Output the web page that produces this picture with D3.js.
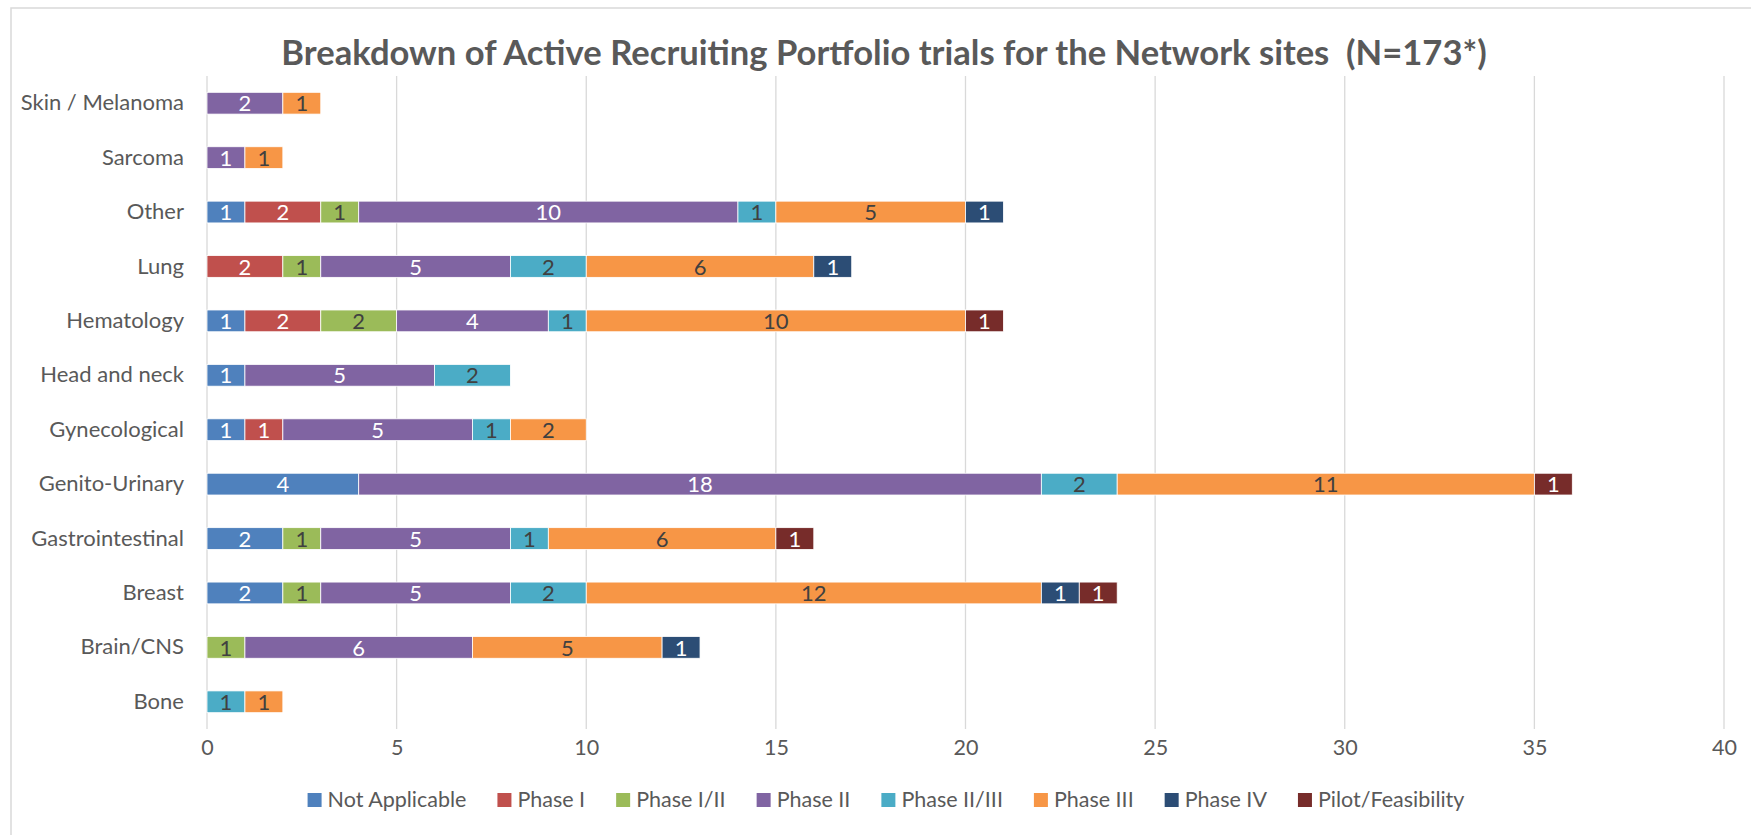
<!DOCTYPE html>
<html><head><meta charset="utf-8">
<script src="https://cdn.jsdelivr.net/npm/d3@7"></script>
<style>
body{margin:0;background:#fff}
svg{display:block}
text{font-family:Lato,"Open Sans","Noto Sans",sans-serif}
</style></head>
<body><svg id="c" width="1751" height="835"></svg>
<script>
const categories = ["Skin / Melanoma","Sarcoma","Other","Lung","Hematology","Head and neck","Gynecological","Genito-Urinary","Gastrointestinal","Breast","Brain/CNS","Bone"];
const seriesNames = ["Not Applicable","Phase I","Phase I/II","Phase II","Phase II/III","Phase III","Phase IV","Pilot/Feasibility"];
const notApplicable = [0,0,1,0,1,1,1,4,2,2,0,0];
const phaseI        = [0,0,2,2,2,0,1,0,0,0,0,0];
const phaseI_II     = [0,0,1,1,2,0,0,0,1,1,1,0];
const phaseII       = [2,1,10,5,4,5,5,18,5,5,6,0];
const phaseII_III   = [0,0,1,2,1,2,1,2,1,2,0,1];
const phaseIII      = [1,1,5,6,10,0,2,11,6,12,5,1];
const phaseIV       = [0,0,1,1,0,0,0,0,0,1,1,0];
const pilotFeasibility = [0,0,0,0,1,0,0,1,1,1,0,0];
const xTicks = [0,5,10,15,20,25,30,35,40];
const titleText = "Breakdown of Active Recruiting Portfolio trials for the Network sites  (N=173*)";

const seriesValues = [notApplicable, phaseI, phaseI_II, phaseII, phaseII_III, phaseIII, phaseIV, pilotFeasibility];
const colors = ["#4F81BD","#C0504D","#9BBB59","#8064A2","#4BACC6","#F79646","#2C4D75","#772C2A"];
const labelColors = ["#ffffff","#ffffff","#404040","#ffffff","#404040","#404040","#ffffff","#ffffff"];

const rows = categories.map((c,i)=>{const r={category:c}; seriesNames.forEach((s,j)=>r[s]=seriesValues[j][i]); return r;});
const stacked = d3.stack().keys(seriesNames)(rows);

const svg = d3.select("#c");
// outer chart border
svg.append("rect").attr("x",11).attr("y",8).attr("width",1760).attr("height",850)
  .attr("fill","#fff").attr("stroke","#D9D9D9").attr("stroke-width",1.5);

const x = d3.scaleLinear().domain([0,40]).range([207,1724]);
const y = d3.scaleBand().domain(categories).range([76,729]).paddingInner(0.6).paddingOuter(0.3);

// gridlines
svg.append("g").selectAll("line").data(xTicks).join("line")
  .attr("x1",d=>x(d)).attr("x2",d=>x(d)).attr("y1",76).attr("y2",729)
  .attr("stroke","#D9D9D9").attr("stroke-width",1.3);

// bars
const g = svg.append("g");
stacked.forEach((layer,j)=>{
  g.append("g").selectAll("rect").data(layer.filter(d=>d[1]-d[0]>0)).join("rect")
    .attr("x",d=>x(d[0])).attr("width",d=>x(d[1])-x(d[0]))
    .attr("y",d=>y(d.data.category)).attr("height",y.bandwidth())
    .attr("fill",colors[j]).attr("stroke","#fff").attr("stroke-width",0.8);
  g.append("g").selectAll("text").data(layer.filter(d=>d[1]-d[0]>0)).join("text")
    .attr("x",d=>(x(d[0])+x(d[1]))/2).attr("y",d=>y(d.data.category)+y.bandwidth()/2)
    .attr("dy","0.37em").attr("text-anchor","middle")
    .attr("font-size",22).attr("fill",labelColors[j])
    .text(d=>d[1]-d[0]);
});

// x axis
const xa = svg.append("g").attr("transform","translate(0,740)")
  .call(d3.axisBottom(x).tickValues(xTicks).tickSize(0).tickPadding(0));
xa.select(".domain").remove();
xa.selectAll("text").attr("font-size",21.5).attr("fill","#595959").attr("dy","0.71em").attr("font-family",null);

// y axis
const ya = svg.append("g").attr("transform","translate(207,0)")
  .call(d3.axisLeft(y).tickSize(0).tickPadding(23));
ya.select(".domain").remove();
ya.selectAll("text").attr("font-size",22).attr("fill","#595959").attr("font-family",null);

// title
svg.append("text").attr("x",884).attr("y",65).attr("text-anchor","middle")
  .attr("xml:space","preserve").style("white-space","pre")
  .attr("font-size",34.6).attr("font-weight","bold").attr("fill","#595959").text(titleText);

// legend
const lg = svg.append("g");
const items = lg.selectAll("g").data(seriesNames).join("g");
items.append("rect").attr("width",14).attr("height",14).attr("y",793).attr("fill",(d,i)=>colors[i]);
items.append("text").attr("x",20).attr("y",807).attr("font-size",21.5).attr("fill","#595959").text(d=>d);
let cx = 0;
items.each(function(){
  const w = d3.select(this).select("text").node().getComputedTextLength();
  d3.select(this).attr("transform",`translate(${cx},0)`);
  cx += 20 + w + 31;
});
const total = cx - 31;
lg.attr("transform",`translate(${886 - total/2},0)`);
</script></body></html>
